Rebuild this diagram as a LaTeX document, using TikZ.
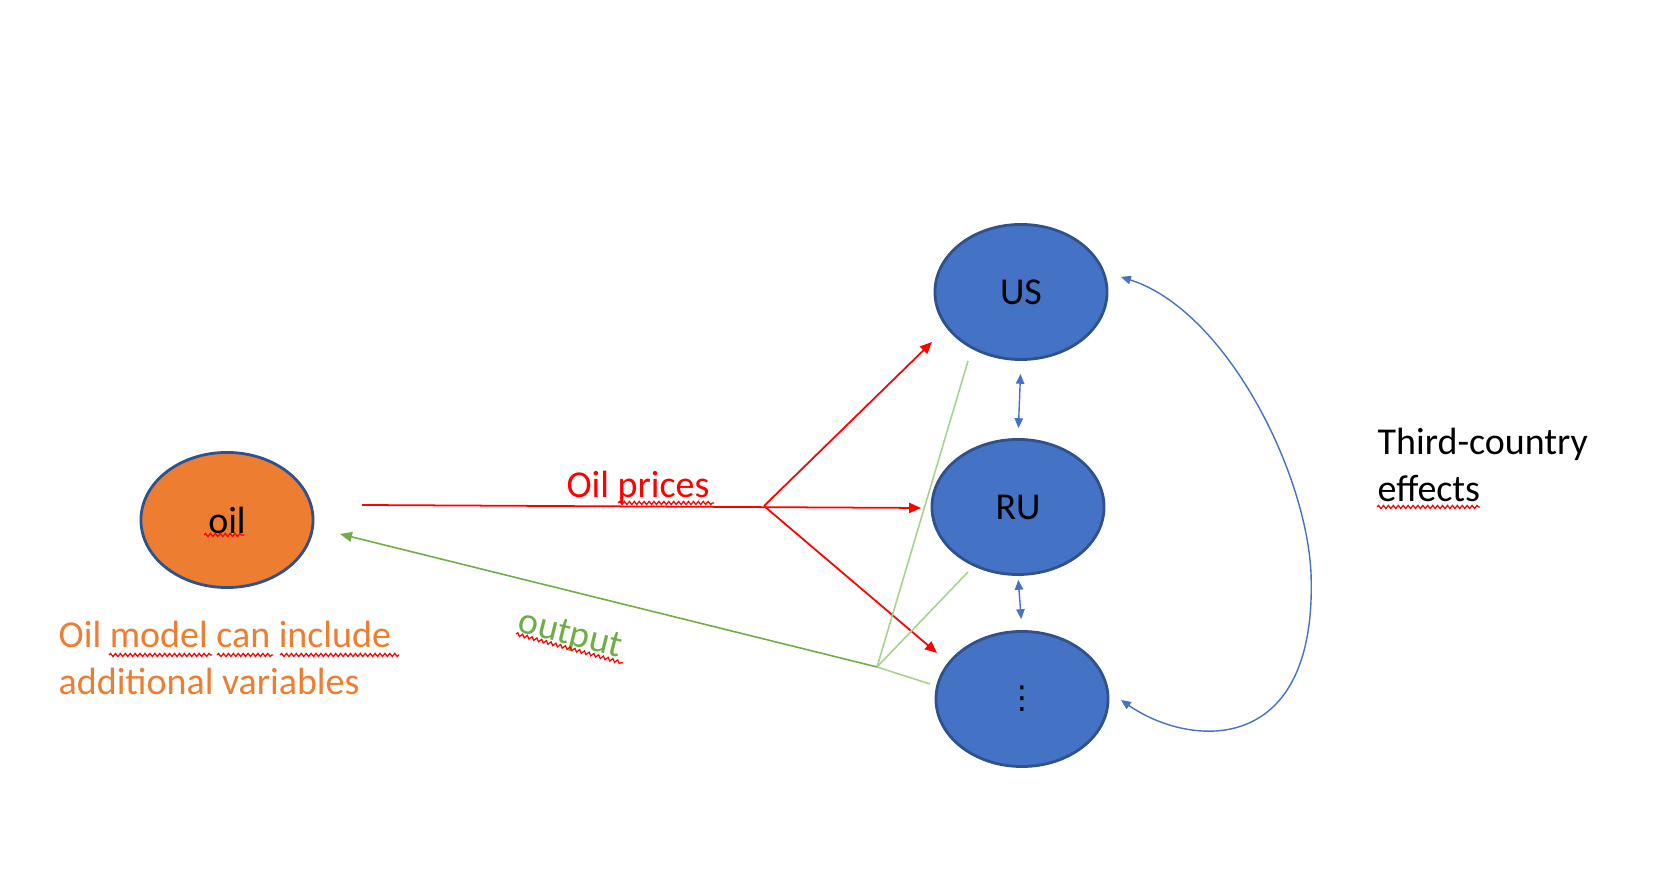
\documentclass[tikz,border=0pt]{standalone}
\usepackage{fontspec}
\setmainfont{Carlito}
\newfontfamily\symfont{DejaVu Sans}
\usetikzlibrary{shapes.geometric,arrows.meta,decorations.pathmorphing}
\definecolor{bluefill}{HTML}{4472C4}
\definecolor{blueedge}{HTML}{2F528F}
\definecolor{oilfill}{HTML}{ED7D31}
\definecolor{outgreen}{HTML}{70AD47}
\definecolor{spillgreen}{HTML}{A9D18E}
\definecolor{pricered}{HTML}{FF0000}
\begin{document}
\begin{tikzpicture}[x=0.01cm,y=-0.01cm,
  country/.style={ellipse,draw=blueedge,fill=bluefill,line width=0.8pt,minimum width=1.72cm,minimum height=1.35cm},
  oilnode/.style={country,fill=oilfill},
  pricearrow/.style={pricered,line width=0.5pt,-{Triangle[length=3.4pt,width=2.9pt]}},
  outarrow/.style={outgreen,line width=0.45pt,-{Triangle[length=3.4pt,width=2.8pt]}},
  spill/.style={spillgreen,line width=0.45pt},
  linkarrow/.style={bluefill,line width=0.4pt,{Triangle[length=2.8pt,width=2.4pt]}-{Triangle[length=2.8pt,width=2.4pt]}},
  typo/.style={pricered,line width=0.35pt,decorate,decoration={snake,segment length=1.4pt,amplitude=0.45pt}}]
\tikzstyle{every node}+=[inner sep=0pt,font=\fontsize{10.8}{13.4}\selectfont]
\useasboundingbox (0,0) rectangle (1660,874);
\node [oilnode] (oil) at (227,520) {oil};
\node [country] (US) at (1021,292) {US};
\node [country] (RU) at (1018,507) {RU};
\node [country] (dots) at (1022,699) {\symfont\fontsize{9}{10}\selectfont ⋮};
\node [oilfill,anchor=base west,align=left] (oilnote) at (58,695) {Oil model can include\\additional variables};
\node [pricered,anchor=base] (prices) at (638,498) {Oil prices};
\node [outgreen,rotate=-14] (output) at (570,636) {output};
\node [anchor=base west,align=left] (third) at (1377,502) {Third-country\\effects};
\coordinate (pstart) at (362,505);
\coordinate (split) at (764,506);
\coordinate (tipUS) at (932,342);
\coordinate (tipRU) at (921,508);
\coordinate (tipdots) at (937,653);
\coordinate (gmeet) at (877,667);
\coordinate (tipoil) at (340,534);
\coordinate (gUS) at (968,361);
\coordinate (gRU) at (968,572);
\coordinate (gdots) at (930,684);
\coordinate (cdots) at (1121,700);
\coordinate (cUS) at (1121,277);
\draw [pricearrow] (pstart) -- (tipRU);
\draw [pricearrow] (split) -- (tipUS);
\draw [pricearrow] (split) -- (tipdots);
\draw [spill] (gmeet) -- (gUS);
\draw [spill] (gmeet) -- (gRU);
\draw [spill] (gmeet) -- (gdots);
\draw [outarrow] (gmeet) -- (tipoil);
\draw [linkarrow,shorten <=0.13cm,shorten >=0.1cm] (US.south) -- (RU.north);
\draw [linkarrow,shorten <=0.04cm,shorten >=0.11cm] (RU.south) -- (dots.north);
\draw [linkarrow] (cdots) .. controls (1190,748) and (1318,758) .. (1311,573) .. controls (1306,470) and (1225,310) .. (cUS);
\draw [typo] (204,535) -- (244,535);
\draw [typo] (109,655) -- (212,655);
\draw [typo] (217,655) -- (273,655);
\draw [typo] (280,655) -- (399,655);
\draw [typo] (618,503) -- (714,503);
\draw [typo] (516,634) -- (623,663);
\draw [typo] (1377,507) -- (1480,507);
\end{tikzpicture}
\end{document}
